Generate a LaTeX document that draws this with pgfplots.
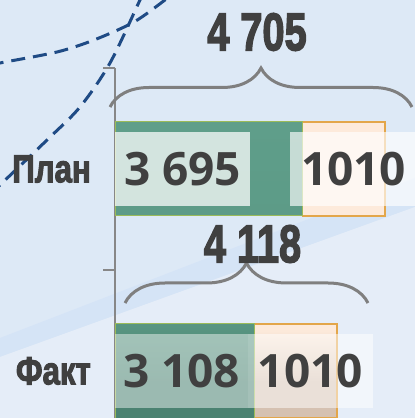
\documentclass[border=0pt]{standalone}
\usepackage{pgfplots}
\pgfplotsset{compat=1.18}
\usepackage{fontspec}
\setmainfont{Open Sans}
\newfontfamily\cond{Liberation Sans Bold}[FakeBold=3]
\usetikzlibrary{decorations.pathreplacing}
\definecolor{bg}{HTML}{DDE9F6}
\definecolor{bglight}{HTML}{E5EDF8}
\definecolor{bgband}{HTML}{D5E4F6}
\definecolor{dashblue}{HTML}{1F4B85}
\definecolor{txt}{HTML}{404040}
\definecolor{gtop}{HTML}{5F9E8A}
\definecolor{gmid}{HTML}{5A9884}
\definecolor{gbot}{HTML}{4A8271}
\definecolor{gedge}{HTML}{9BBB59}
\definecolor{otop}{HTML}{FDEADB}
\definecolor{obot}{HTML}{D5C1B1}
\definecolor{oedge}{HTML}{E3A64A}
\definecolor{axgray}{HTML}{878787}
\definecolor{brgray}{HTML}{7F7F7F}
\pgfdeclareverticalshading{gshade}{100bp}{color(0bp)=(gbot); color(25bp)=(gbot); color(31bp)=(gbot); color(42bp)=(gmid); color(75bp)=(gtop); color(100bp)=(gtop)}
\pgfdeclareverticalshading{oshade}{100bp}{color(0bp)=(obot); color(25bp)=(obot); color(31bp)=(obot); color(40bp)=(otop); color(75bp)=(otop); color(100bp)=(otop)}
\pgfplotstableread{
cat plan rest
0 3108 1010
1 3695 1010
}\datatable
\begin{document}
\begin{tikzpicture}[x=1pt,y=1pt]
\useasboundingbox (0,0) rectangle (415,418);
\clip (0,0) rectangle (415,418);
\fill[bg] (0,0) rectangle (415,418);
\fill[bgband] (0,61) -- (415,211) -- (415,240) -- (0,80) -- cycle;
\fill[bglight] (0,0) -- (0,61) -- (415,211) -- (415,0) -- cycle;
\draw[dashblue, line width=3pt, dash pattern=on 14pt off 8pt]
  plot[smooth] coordinates {(-10,352) (0,355) (57,366) (94,378) (134,396) (165,418) (175,426)};
\draw[dashblue, line width=3pt, dash pattern=on 14pt off 8pt]
  plot[smooth] coordinates {(-10,223) (0,233) (47,278) (80,311) (110,355) (140,418) (145,428)};
\begin{axis}[
  at={(115pt,-54pt)}, anchor=south west,
  scale only axis, width=300pt, height=404pt,
  xmin=1400, xmax=5075, ymin=-0.5, ymax=1.5,
  xbar stacked, bar width=94pt,
  axis x line=none, axis y line*=left,
  y axis line style={draw=axgray, line width=1.5pt},
  ytick={0,1},
  yticklabels={\scalebox{0.8}[1]{Факт},\scalebox{0.8}[1]{План}},
  yticklabel style={font=\cond\fontsize{39}{39}\selectfont, text=txt, anchor=east, inner sep=0pt, xshift=-24pt},
  major tick length=0pt,
  minor ytick={-0.5,0.5,1.5},
  minor tick length=12pt,
  tick align=outside,
  minor tick style={draw=axgray, line width=1.5pt},
]
\addplot[draw=gedge, line width=1pt, shade, shading=gshade] table[x=plan, y=cat] {\datatable};
\addplot[draw=oedge, line width=1.5pt, shade, shading=oshade] table[x=rest, y=cat] {\datatable};
\coordinate (l1) at (axis cs:2227,1);
\coordinate (l2) at (axis cs:4322,1);
\coordinate (l3) at (axis cs:2215,0);
\coordinate (l4) at (axis cs:3795,0);
\end{axis}
\tikzset{lbl/.style={font=\fontsize{46}{46}\selectfont\bfseries, text=txt, fill=white, inner sep=0pt, minimum height=74pt, text opacity=1}}
\node[lbl, minimum width=135pt, fill opacity=0.73] at (l1) {3 695};
\node[lbl, minimum width=127pt, fill opacity=0.65] at (l2) {1010};
\node[lbl, minimum width=133pt, fill opacity=0.45] at (l3) {3 108};
\node[lbl, minimum width=125pt, fill opacity=0.5] at (l4) {1010};
\draw[decorate, decoration={brace, amplitude=39pt}, line width=3pt, draw=brgray] (110,311) -- (412,311);
\draw[decorate, decoration={brace, amplitude=40pt}, line width=3pt, draw=brgray] (125,115) -- (368,115);
\node[font=\cond\fontsize{53}{53}\selectfont, text=txt, inner sep=0pt] at (257,386) {\scalebox{0.75}[1]{4 705}};
\node[font=\cond\fontsize{53}{53}\selectfont, text=txt, inner sep=0pt] at (252.5,174) {\scalebox{0.75}[1]{4 118}};
\end{tikzpicture}
\end{document}
